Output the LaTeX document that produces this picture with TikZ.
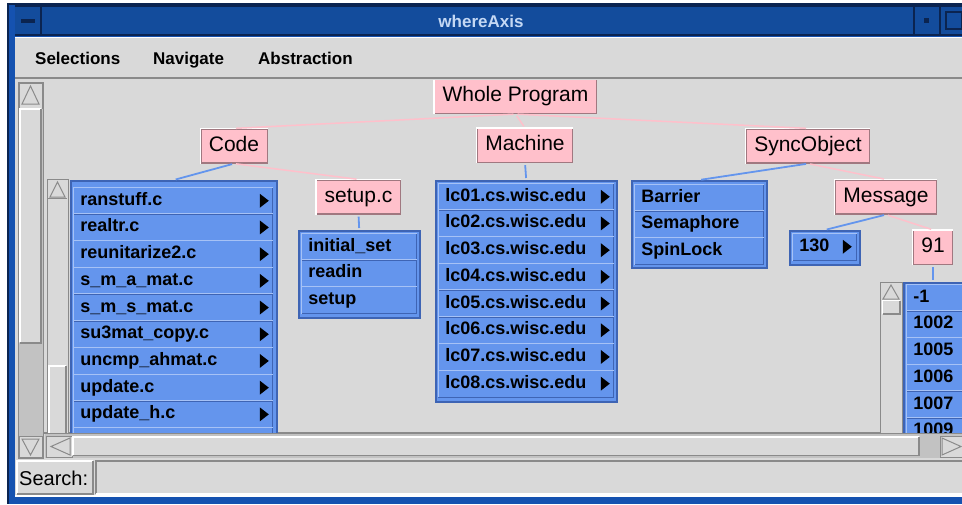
\documentclass[tikz,border=0pt]{standalone}
\usepackage{fontspec}
\setmainfont{Liberation Sans}
\usetikzlibrary{calc}

\definecolor{wmblue}{HTML}{1552B0}
\definecolor{wmtitle}{HTML}{134C9C}
\definecolor{wmdark}{HTML}{0B2450}
\definecolor{wmtext}{HTML}{C4D8F4}
\definecolor{guigray}{HTML}{D9D9D9}
\definecolor{trough}{HTML}{C2C2C2}
\definecolor{edgegray}{HTML}{8A8A8A}
\definecolor{nodepink}{HTML}{FFC0CB}
\definecolor{pinkedge}{HTML}{A07880}
\definecolor{itemblue}{HTML}{6495ED}
\definecolor{itemdark}{HTML}{3E64B4}
\definecolor{itemlight}{HTML}{A6C2F6}

\tikzset{
  pinkbox/.style={fill=nodepink, draw=pinkedge, line width=1.2, minimum height=34,
    inner xsep=8, text height=15pt, text depth=4.5pt, font=\fontsize{21}{25}\selectfont},
  item/.style={fill=itemblue, draw=itemdark, line width=0.8, minimum height=26.7,
    text width=#1pt, inner xsep=7, text height=13pt, text depth=4pt, anchor=north west,
    align=left, font=\fontsize{18}{22}\selectfont\bfseries},
  listframe/.style={fill=itemblue, draw=itemdark, line width=1.5, anchor=north west, inner sep=0},
  pinkline/.style={draw=nodepink, line width=1.5, shorten <=2, shorten >=2},
  blueline/.style={draw=itemblue, line width=1.8, shorten <=2, shorten >=2},
  hilite/.style={draw=white, line width=1.2},
  itemhi/.style={draw=itemlight, line width=0.8},
  menu/.style={anchor=base west, inner sep=0, font=\fontsize{17}{20}\selectfont\bfseries},
  sbar/.style={fill=guigray, draw=edgegray, line width=1},
  sarrow/.style={fill=guigray, draw=edgegray, line width=1},
}

\begin{document}
\begin{tikzpicture}[x=1pt, y=-1pt]
\useasboundingbox (0,0) rectangle (962,504);

% window frame and title bar
\fill[white] (0,0) rectangle (962,504);
\fill[wmblue] (7,3) rectangle (962,504);
\draw[wmdark, line width=1.5] (7,3.75) -- (962,3.75) (7.75,3) -- (7.75,504);
\fill[wmtitle] (15,6) rectangle (962,35);
\draw[wmdark, line width=2] (15,6) -- (962,6) (15,35) -- (962,35)
  (41,6) -- (41,35) (914,6) -- (914,35) (940,6) -- (940,35);
\fill[wmdark] (21,19) rectangle (35,23);
\fill[wmdark] (924,18) rectangle (929,23);
\draw[wmdark, line width=1.5] (946,12) rectangle (962,29);
\node[font=\fontsize{17}{20}\selectfont\bfseries, text=wmtext] (title) at (481,21) {whereAxis};

% menu bar
\fill[guigray] (15,37) rectangle (962,497);
\draw[white, line width=1] (15,37.5) -- (962,37.5);
\node[menu] (menusel) at (35,64) {Selections};
\node[menu] (menunav) at (153,64) {Navigate};
\node[menu] (menuabs) at (258,64) {Abstraction};
\draw[edgegray, line width=2] (15,78) -- (962,78);

% outer scrollbars
\fill[trough] (18,82) rectangle (43,458);
\draw[edgegray] (18,82) rectangle (43,458);
\draw[sbar] (19,83) rectangle (42,108);
\draw[sarrow] (22,104) -- (30.5,86) -- (39,104) -- cycle;
\fill[guigray] (19,108) rectangle (42,343);
\draw[white, line width=1.5] (20,342) -- (20,109) -- (41,109);
\draw[edgegray, line width=1.5] (20,343) -- (41,343) -- (41,109);
\draw[sbar] (19,436) rectangle (42,457);
\draw[sarrow] (22,439) -- (30.5,455) -- (39,439) -- cycle;

\fill[trough] (45,434) rectangle (962,458);
\draw[edgegray, line width=2] (44,433) -- (962,433);
\draw[sbar] (46,436) rectangle (72,457);
\draw[sarrow] (70,438) -- (51,446.5) -- (70,455) -- cycle;
\fill[guigray] (72,436) rectangle (920,456);
\draw[white, line width=1.5] (73,455) -- (73,437) -- (919,437);
\draw[edgegray, line width=1.5] (73,455.5) -- (919,455.5) -- (919,437);
\draw[sbar] (940,436) rectangle (966,457);
\draw[sarrow] (942,438) -- (961,446.5) -- (942,455) -- cycle;

% search row
\fill[guigray] (17,461) rectangle (93,494);
\draw[white, line width=1.5] (17,494) -- (17,461) -- (93,461);
\draw[edgegray, line width=1.5] (17,494) -- (93,494) -- (93,461);
\node[anchor=west, inner sep=0, font=\fontsize{20}{24}\selectfont] (search) at (19,478) {Search:};
\draw[edgegray, line width=1.5] (96,494) -- (96,461) -- (962,461);
\draw[white, line width=1.5] (96,494) -- (962,494);
\draw[white, line width=1.5] (15,496) -- (962,496);

% the tree
\begin{scope}
\clip (44,80) rectangle (962,432);

\node[pinkbox] (whole) at (515.5,96.5) {Whole Program};
\node[pinkbox] (code) at (234,146) {Code};
\node[pinkbox] (machine) at (525,145.5) {Machine};
\node[pinkbox] (syncobj) at (808,146) {SyncObject};
\node[pinkbox] (setupc) at (358.5,197) {setup.c};
\node[pinkbox] (message) at (886,197) {Message};
\node[pinkbox] (n91) at (933,247.5) {91};
\foreach \n in {whole,code,machine,syncobj,setupc,message,n91}
  \draw[hilite] (\n.south west) -- (\n.north west) -- (\n.north east);

% code files
\draw[sbar] (47,179) rectangle (68,440);
\draw[sarrow] (50,197) -- (57.5,182) -- (65,197) -- cycle;
\draw[edgegray] (48,198) -- (67,198);
\draw[white, line width=1.5] (49,440) -- (49,366) -- (66,366);
\draw[edgegray, line width=1.5] (66,366) -- (66,440);
\node[listframe, minimum width=206, minimum height=270] (codelist) at (70,180) {};
\foreach \t [count=\i] in {ranstuff.c, realtr.c, reunitarize2.c, s\_m\_a\_mat.c,
    s\_m\_s\_mat.c, su3mat\_copy.c, uncmp\_ahmat.c, update.c, update\_h.c, {}} {
  \node[item=185] (code\i) at (73,{187+(\i-1)*26.7}) {\t};
  \draw[itemhi] (code\i.south west) -- (code\i.north west) -- (code\i.north east);
  \fill ($(code\i.east)+(-4,0)$) -- ++(-9,-7) -- ++(0,14) -- cycle;
}

% functions of setup.c
\node[listframe, minimum width=121, minimum height=87] (setuplist) at (298,230) {};
\foreach \t [count=\i] in {initial\_set, readin, setup} {
  \node[item=101] (setup\i) at (301,{233+(\i-1)*26.7}) {\t};
  \draw[itemhi] (setup\i.south west) -- (setup\i.north west) -- (setup\i.north east);
}

% machines
\node[listframe, minimum width=181, minimum height=221] (machinelist) at (435,180) {};
\foreach \i in {1,...,8} {
  \node[item=161] (mach\i) at (438,{183+(\i-1)*26.7}) {lc0\i.cs.wisc.edu};
  \draw[itemhi] (mach\i.south west) -- (mach\i.north west) -- (mach\i.north east);
  \fill ($(mach\i.east)+(-4,0)$) -- ++(-9,-7) -- ++(0,14) -- cycle;
}

% sync objects
\node[listframe, minimum width=135, minimum height=87] (synclist) at (631,180) {};
\foreach \t [count=\i] in {Barrier, Semaphore, SpinLock} {
  \node[item=115] (sync\i) at (634,{184+(\i-1)*26.7}) {\t};
  \draw[itemhi] (sync\i.south west) -- (sync\i.north west) -- (sync\i.north east);
}

% message tags
\node[listframe, minimum width=70, minimum height=34] (n130) at (789,230) {};
\node[item=50] (tag130) at (792,233) {130};
\draw[itemhi] (tag130.south west) -- (tag130.north west) -- (tag130.north east);
\fill ($(tag130.east)+(-5,0)$) -- ++(-9,-7) -- ++(0,14) -- cycle;

\draw[sbar] (880,282) rectangle (902,440);
\draw[sarrow] (883,299) -- (891,285) -- (899,299) -- cycle;
\fill[guigray] (882,300) rectangle (900,314);
\draw[white, line width=1.2] (882.5,314) -- (882.5,300.5) -- (900,300.5);
\draw[edgegray, line width=1.2] (882.5,314) -- (900,314) -- (900,300.5);
\node[listframe, minimum width=75, minimum height=170] (numlist) at (903,282) {};
\foreach \t [count=\i] in {-1, 1002, 1005, 1006, 1007, 1009} {
  \node[item=58] (num\i) at (906,{284+(\i-1)*26.7}) {\t};
  \draw[itemhi] (num\i.south west) -- (num\i.north west) -- (num\i.north east);
}

% connectors
\draw[pinkline] (whole.south) -- (code.north);
\draw[pinkline] (whole.south) -- (machine.north);
\draw[pinkline] (whole.south) -- (syncobj.north);
\draw[blueline] (code.south) -- (codelist.north);
\draw[pinkline] (code.south) -- (setupc.north);
\draw[blueline] (setupc.south) -- (setuplist.north);
\draw[blueline] (machine.south) -- (machinelist.north);
\draw[blueline] (syncobj.south) -- (synclist.north);
\draw[pinkline] (syncobj.south) -- (message.north);
\draw[blueline] (message.south) -- (n130.north);
\draw[pinkline] (message.south) -- (n91.north);
\draw[blueline] (n91.south) -- (n91.south |- numlist.north);
\end{scope}
\end{tikzpicture}
\end{document}
